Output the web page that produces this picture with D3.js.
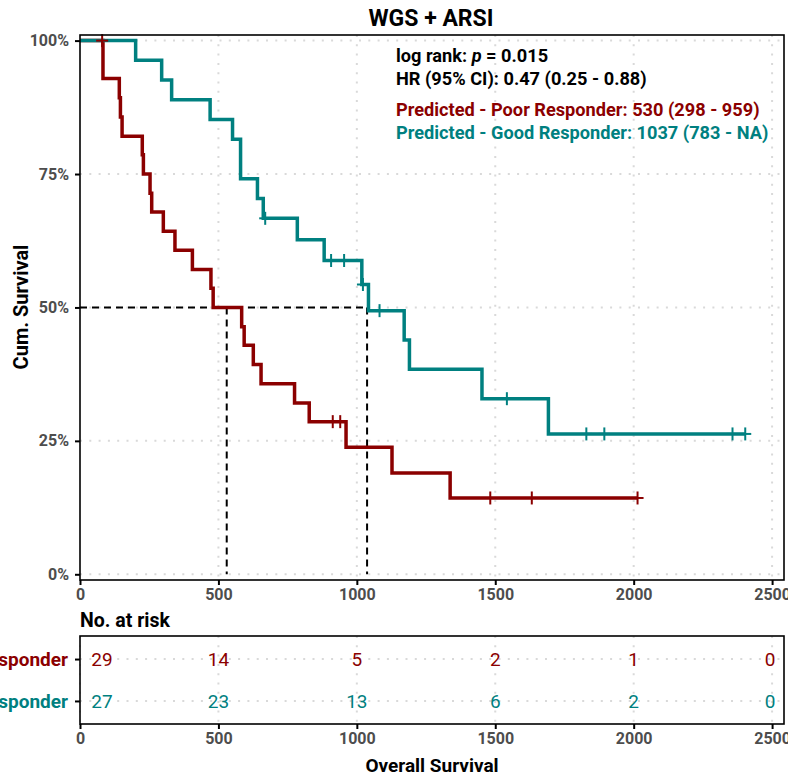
<!DOCTYPE html>
<html>
<head>
<meta charset="utf-8">
<script src="https://cdn.jsdelivr.net/npm/d3@7"></script>
<style>
  body { margin: 0; background: #fff; }
  svg text { font-family: Roboto, "Liberation Sans", sans-serif; }
</style>
</head>
<body>
<div id="chart"></div>
<script>
// step points of the two Kaplan-Meier curves (time in days, cum. survival)
var poorTimes = [0, 83, 142, 146, 152, 225, 229, 253, 259, 301, 343, 406, 473, 481, 584, 593, 626, 654, 775, 828, 961, 1127, 1337, 2014];
var poorSurv = [1, 0.929, 0.893, 0.857, 0.821, 0.786, 0.750, 0.714, 0.679, 0.643, 0.607, 0.571, 0.536, 0.500, 0.464, 0.429, 0.393, 0.357, 0.321, 0.286, 0.238, 0.190, 0.143, 0.143];
var goodTimes = [0, 201, 295, 331, 470, 551, 580, 641, 662, 785, 882, 1018, 1042, 1171, 1190, 1452, 1692, 2403];
var goodSurv = [1, 0.963, 0.926, 0.889, 0.852, 0.815, 0.741, 0.704, 0.667, 0.627, 0.588, 0.543, 0.494, 0.439, 0.384, 0.329, 0.263, 0.263];

// censored observations
var poorCensorTimes = [80, 913, 940, 1482, 1632, 2014];
var poorCensorSurv = [1, 0.286, 0.286, 0.143, 0.143, 0.143];
var goodCensorTimes = [669, 907, 954, 1022, 1082, 1542, 1829, 1894, 2357, 2403];
var goodCensorSurv = [0.667, 0.588, 0.588, 0.543, 0.494, 0.329, 0.263, 0.263, 0.263, 0.263];

// medians
var medianTimes = [530, 1037];

// number at risk table
var riskTimes = [0, 500, 1000, 1500, 2000, 2500];
var poorRisk = [29, 14, 5, 2, 1, 0];
var goodRisk = [27, 23, 13, 6, 2, 0];

var xTicks = [0, 500, 1000, 1500, 2000, 2500];
var yTicks = [0, 0.25, 0.5, 0.75, 1];
var yTickLabels = ["0%", "25%", "50%", "75%", "100%"];

var groups = ["Predicted - Poor Responder", "Predicted - Good Responder"];
var colors = ["#8b0000", "#008080"];

var W = 788, H = 775;
var svg = d3.select("#chart").append("svg")
  .attr("width", W).attr("height", H);

// ---- main panel ----
var x = d3.scaleLinear().domain([0, 2543]).range([80, 784]);
var y = d3.scaleLinear().domain([-0.0107, 1.0105]).range([580, 35]);

var grid = "#d9d9d9";
var dots = "2,7.3";
var fmt = d3.format("d");

// gridlines
svg.append("g").selectAll("line")
  .data(xTicks.slice(1)).enter().append("line")
  .attr("x1", function (d) { return x(d); }).attr("x2", function (d) { return x(d); })
  .attr("y1", 35).attr("y2", 580)
  .attr("stroke", grid).attr("stroke-width", 2).attr("stroke-dasharray", dots);
svg.append("g").selectAll("line")
  .data(yTicks).enter().append("line")
  .attr("x1", 80).attr("x2", 784)
  .attr("y1", function (d) { return y(d); }).attr("y2", function (d) { return y(d); })
  .attr("stroke", grid).attr("stroke-width", 2).attr("stroke-dasharray", dots);

// median lines
svg.append("line")
  .attr("x1", x(0)).attr("x2", x(medianTimes[1]))
  .attr("y1", y(0.5)).attr("y2", y(0.5))
  .attr("stroke", "#000").attr("stroke-width", 2).attr("stroke-dasharray", "7,5");
svg.append("g").selectAll("line")
  .data(medianTimes).enter().append("line")
  .attr("x1", function (d) { return x(d); }).attr("x2", function (d) { return x(d); })
  .attr("y1", y(0.5)).attr("y2", y(0))
  .attr("stroke", "#000").attr("stroke-width", 2).attr("stroke-dasharray", "7,5");

// curves
var line = d3.line()
  .x(function (d) { return x(d[0]); })
  .y(function (d) { return y(d[1]); })
  .curve(d3.curveStepAfter);

var curves = [
  { t: poorTimes, s: poorSurv, ct: poorCensorTimes, cs: poorCensorSurv },
  { t: goodTimes, s: goodSurv, ct: goodCensorTimes, cs: goodCensorSurv }
];

curves.forEach(function (c, i) {
  svg.append("path")
    .datum(d3.zip(c.t, c.s))
    .attr("d", line)
    .attr("fill", "none")
    .attr("stroke", colors[i])
    .attr("stroke-width", 3.5);
});

// censor marks (+)
curves.forEach(function (c, i) {
  var g = svg.append("g").selectAll("g")
    .data(d3.zip(c.ct, c.cs)).enter().append("g")
    .attr("transform", function (d) { return "translate(" + x(d[0]) + "," + y(d[1]) + ")"; });
  g.append("line").attr("x1", 0).attr("x2", 0).attr("y1", -6.5).attr("y2", 6.5)
    .attr("stroke", colors[i]).attr("stroke-width", 2);
  g.append("line").attr("x1", -6).attr("x2", 6).attr("y1", 0).attr("y2", 0)
    .attr("stroke", colors[i]).attr("stroke-width", 2);
});

// panel border
svg.append("rect")
  .attr("x", 80).attr("y", 35).attr("width", 704).attr("height", 545)
  .attr("fill", "none").attr("stroke", "#000").attr("stroke-width", 1.6);

// axes
var yAxis = svg.append("g")
  .attr("transform", "translate(80,0)")
  .call(d3.axisLeft(y).tickValues(yTicks).tickSize(5).tickPadding(6)
    .tickFormat(function (d, i) { return yTickLabels[i]; }));
var xAxis = svg.append("g")
  .attr("transform", "translate(0,580)")
  .call(d3.axisBottom(x).tickValues(xTicks).tickSize(5).tickPadding(4).tickFormat(fmt));

[xAxis, yAxis].forEach(function (a) {
  a.select(".domain").remove();
  a.selectAll(".tick line").attr("stroke", "#000").attr("stroke-width", 2);
  a.selectAll(".tick text")
    .attr("fill", "#4d4d4d")
    .style("font-size", "16px")
    .style("font-weight", "bold");
});

// title
svg.append("text")
  .attr("x", 431).attr("y", 26)
  .attr("text-anchor", "middle")
  .style("font-size", "23px").style("font-weight", "bold")
  .text("WGS + ARSI");

// y axis title
svg.append("text")
  .attr("transform", "translate(28,307) rotate(-90)")
  .attr("text-anchor", "middle")
  .style("font-size", "20px").style("font-weight", "bold")
  .text("Cum. Survival");

// annotations
var ann = svg.append("g").style("font-size", "18.2px").style("font-weight", "bold");
var t1 = ann.append("text").attr("x", 396).attr("y", 62);
t1.append("tspan").text("log rank: ");
t1.append("tspan").style("font-style", "italic").text("p");
t1.append("tspan").text(" = 0.015");
ann.append("text").attr("x", 396).attr("y", 85).text("HR (95% CI): 0.47 (0.25 - 0.88)");
ann.append("text").attr("x", 396).attr("y", 116).attr("fill", colors[0])
  .text("Predicted - Poor Responder: 530 (298 - 959)");
ann.append("text").attr("x", 396).attr("y", 139).attr("fill", colors[1])
  .text("Predicted - Good Responder: 1037 (783 - NA)");

// ---- risk table ----
svg.append("text")
  .attr("x", 80).attr("y", 627)
  .style("font-size", "19.5px").style("font-weight", "bold")
  .text("No. at risk");

var ry = d3.scalePoint().domain(groups).range([636, 724]).padding(0.55);

svg.append("g").selectAll("line")
  .data(xTicks).enter().append("line")
  .attr("x1", function (d) { return x(d); }).attr("x2", function (d) { return x(d); })
  .attr("y1", 636).attr("y2", 724)
  .attr("stroke", grid).attr("stroke-width", 2).attr("stroke-dasharray", dots);
svg.append("g").selectAll("line")
  .data(groups).enter().append("line")
  .attr("x1", 80).attr("x2", 784)
  .attr("y1", function (d) { return ry(d); }).attr("y2", function (d) { return ry(d); })
  .attr("stroke", grid).attr("stroke-width", 2).attr("stroke-dasharray", dots);

[poorRisk, goodRisk].forEach(function (r, i) {
  svg.append("g").selectAll("text")
    .data(d3.zip(riskTimes, r)).enter().append("text")
    .attr("x", function (d) { return x(d[0]); })
    .attr("dx", function (d, j) { return j === 0 ? 22 : (j === riskTimes.length - 1 ? -2 : 0); })
    .attr("y", ry(groups[i]))
    .attr("dy", "0.36em")
    .attr("text-anchor", "middle")
    .attr("fill", colors[i])
    .style("font-size", "19px")
    .text(function (d) { return d[1]; });
});

svg.append("rect")
  .attr("x", 80).attr("y", 636).attr("width", 704).attr("height", 88)
  .attr("fill", "none").attr("stroke", "#000").attr("stroke-width", 1.6);

var ryAxis = svg.append("g")
  .attr("transform", "translate(80,0)")
  .call(d3.axisLeft(ry).tickSize(5).tickPadding(7));
ryAxis.select(".domain").remove();
ryAxis.selectAll(".tick line").attr("stroke", "#000").attr("stroke-width", 2);
ryAxis.selectAll(".tick text")
  .attr("fill", function (d, i) { return colors[i]; })
  .style("font-size", "19px").style("font-weight", "bold");

var rxAxis = svg.append("g")
  .attr("transform", "translate(0,724)")
  .call(d3.axisBottom(x).tickValues(xTicks).tickSize(5).tickPadding(4).tickFormat(fmt));
rxAxis.select(".domain").remove();
rxAxis.selectAll(".tick line").attr("stroke", "#000").attr("stroke-width", 2);
rxAxis.selectAll(".tick text")
  .attr("fill", "#4d4d4d")
  .style("font-size", "16px").style("font-weight", "bold");

svg.append("text")
  .attr("x", 432).attr("y", 772)
  .attr("text-anchor", "middle")
  .style("font-size", "19px").style("font-weight", "bold")
  .text("Overall Survival");
</script>
</body>
</html>
